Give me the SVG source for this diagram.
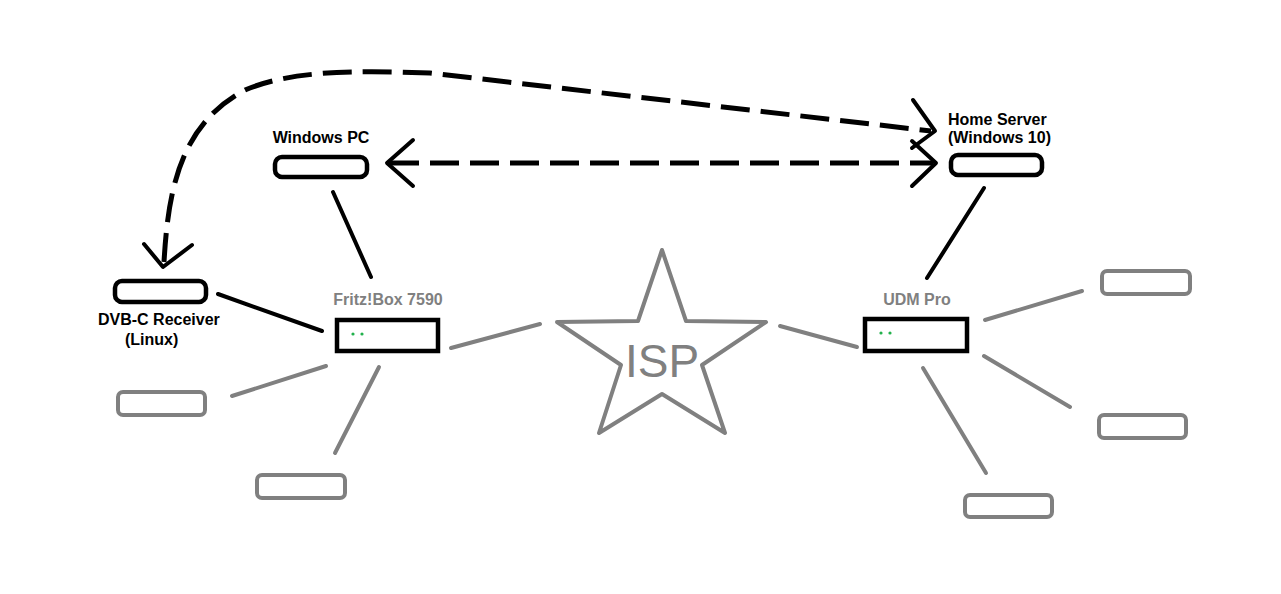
<svg xmlns="http://www.w3.org/2000/svg" width="1281" height="594" viewBox="0 0 1281 594">
<style>
.bk{fill:none;stroke:#000;stroke-width:4;stroke-linecap:round;stroke-linejoin:round}
.dash{fill:none;stroke:#000;stroke-width:5;stroke-dasharray:29 11}
.gr{fill:none;stroke:#808080;stroke-width:4;stroke-linecap:round;stroke-linejoin:round}
.box{fill:#fff;stroke:#000;stroke-width:4.5}
.gbox{fill:#fff;stroke:#808080;stroke-width:4}
.lbl{font-family:"Liberation Sans",Arial,sans-serif;font-weight:bold;font-size:16px;fill:#000}
.glbl{font-family:"Liberation Sans",Arial,sans-serif;font-weight:bold;font-size:16px;fill:#808080}
.led{fill:#22b14c}
</style>
<rect width="1281" height="594" fill="#fff"/>
<g id="connectors">
  <line class="bk" x1="218" y1="294" x2="322" y2="331"/>
  <line class="bk" x1="333" y1="192" x2="371" y2="277"/>
  <line class="bk" x1="984" y1="188" x2="927" y2="278"/>
  <line class="gr" x1="451" y1="348" x2="540" y2="324"/>
  <line class="gr" x1="232" y1="396" x2="326" y2="366"/>
  <line class="gr" x1="335" y1="453" x2="379" y2="367"/>
  <line class="gr" x1="780" y1="326" x2="857" y2="347"/>
  <line class="gr" x1="985" y1="320" x2="1082" y2="291"/>
  <line class="gr" x1="984" y1="356" x2="1070" y2="407"/>
  <line class="gr" x1="923" y1="368" x2="986" y2="473"/>
  <line class="dash" x1="390" y1="163" x2="933" y2="163"/>
  <polyline class="bk" points="413,140 387,163 413,186"/>
  <polyline class="bk" points="912,141 936,163 912,186"/>
  <path class="dash" d="M164,262 C168,195 178,125 245,90 C290,71 350,70 430,73 L931,131"/>
  <polyline class="bk" points="913,100 935,131 912,148"/>
  <polyline class="bk" points="144,244 163,267 192,245"/>
</g>
<g id="windows-pc">
  <text class="lbl" x="321" y="143" text-anchor="middle">Windows PC</text>
  <rect class="box" x="275" y="157" width="92" height="20" rx="7"/>
</g>
<g id="home-server">
  <text class="lbl" x="948" y="125">Home Server</text>
  <text class="lbl" x="948" y="143">(Windows 10)</text>
  <rect class="box" x="951" y="155" width="91" height="20" rx="7"/>
</g>
<g id="dvb-c-receiver">
  <rect class="box" x="115" y="281" width="91" height="21" rx="7"/>
  <text class="lbl" x="98" y="325">DVB-C Receiver</text>
  <text class="lbl" x="125" y="345">(Linux)</text>
</g>
<g id="fritzbox">
  <text class="glbl" x="388" y="305" text-anchor="middle">Fritz!Box 7590</text>
  <rect class="box" x="337" y="320" width="101" height="31"/>
  <circle class="led" cx="353" cy="334" r="1.6"/>
  <circle class="led" cx="362" cy="334" r="1.6"/>
</g>
<g id="udm-pro">
  <text class="glbl" x="917" y="305" text-anchor="middle">UDM Pro</text>
  <rect class="box" x="865" y="319" width="102" height="32"/>
  <circle class="led" cx="881" cy="333" r="1.6"/>
  <circle class="led" cx="890" cy="333" r="1.6"/>
</g>
<g id="isp">
  <polygon class="gr" points="662,250 638,321 557,322 621,365 599,433 662,394 725,433 702,365 766,322 686,321"/>
  <text x="662" y="377" text-anchor="middle" font-family="'Liberation Sans',Arial,sans-serif" font-size="46" fill="#808080">ISP</text>
</g>
<g id="fritz-client-1"><rect class="gbox" x="118" y="392" width="87" height="23" rx="5"/></g>
<g id="fritz-client-2"><rect class="gbox" x="257" y="475" width="88" height="23" rx="5"/></g>
<g id="udm-client-1"><rect class="gbox" x="1102" y="271" width="88" height="23" rx="5"/></g>
<g id="udm-client-2"><rect class="gbox" x="1099" y="415" width="87" height="23" rx="5"/></g>
<g id="udm-client-3"><rect class="gbox" x="965" y="495" width="87" height="22" rx="5"/></g>
</svg>
